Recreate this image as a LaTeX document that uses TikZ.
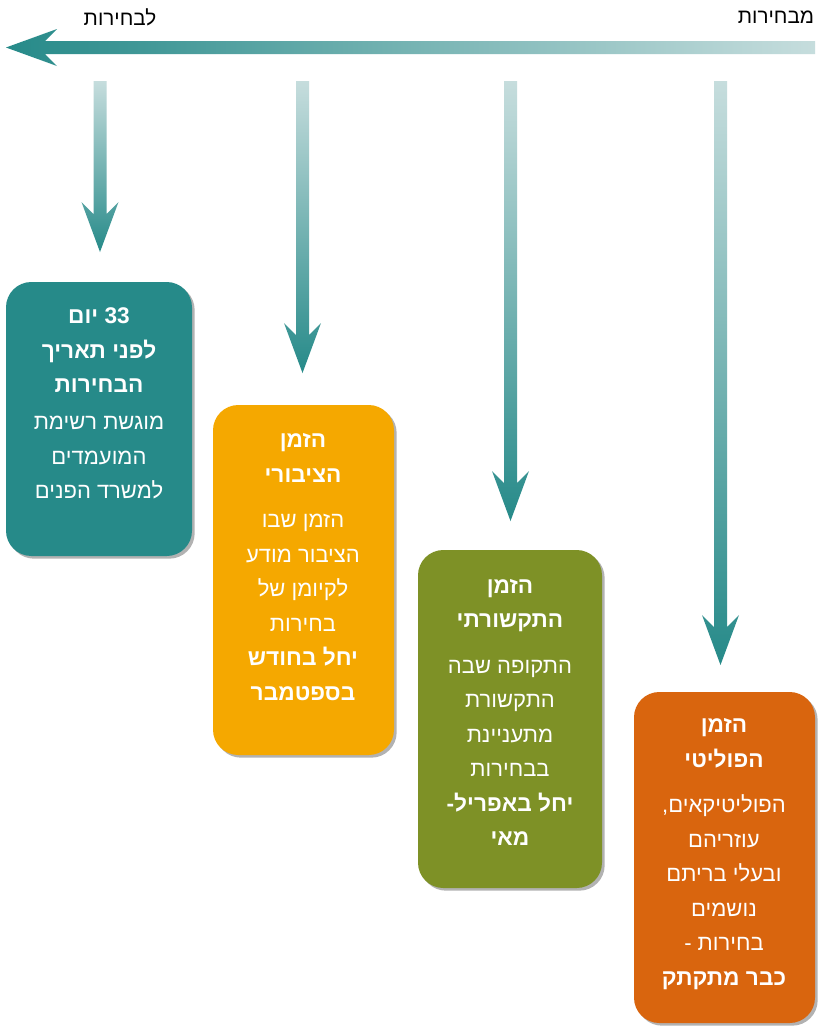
\documentclass[tikz,border=0pt]{standalone}
\usepackage{fontspec}
\setmainfont{Liberation Sans}
\newfontfamily\heb[Script=Hebrew]{Liberation Sans}
\TeXXeTstate=1
\usetikzlibrary{shadows}
\definecolor{tealD}{HTML}{268A89}
\definecolor{tealL}{HTML}{C6DDDD}
\definecolor{gold}{HTML}{F5A800}
\definecolor{olive}{HTML}{7E9126}
\definecolor{rust}{HTML}{D9650E}
\newcommand\rl[1]{\beginR #1\endR}
\newcommand\bodyfont{\heb\fontsize{16.5}{25.9}\selectfont}
\newcommand\titlefont{\heb\bfseries\fontsize{17}{25}\selectfont}
\tikzset{
  box/.style={rounded corners=19pt, draw=none, inner sep=0pt,
    drop shadow={shadow xshift=2pt, shadow yshift=-2pt, opacity=0.3, fill=black}},
  boxtext/.style={text=white, align=center, inner sep=0pt, font=\bodyfont},
  toplabel/.style={text=black, inner sep=0pt, font=\heb\fontsize{15.5}{18}\selectfont},
}
\newcommand\varrow[3]{%
  \shade[top color=tealL, bottom color=tealD]
    (#1-6.5,#2) -- (#1+6.5,#2) -- (#1+6.5,#3-38) -- (#1+18.5,#3-50) -- (#1,#3)
    -- (#1-18.5,#3-50) -- (#1-6.5,#3-38) -- cycle;}
\begin{document}
\begin{tikzpicture}[x=0.75pt, y=-0.75pt]
\useasboundingbox (0,0) rectangle (822,1026);
\fill[white] (0,0) rectangle (822,1026);

% top arrow
\shade[left color=tealD, right color=tealL]
  (6,47.5) -- (57,29) -- (45,41) -- (815,41) -- (815,54) -- (45,54) -- (57,66) -- cycle;
\node[toplabel] (to) at (120,17) {\rl{לבחירות}};
\node[toplabel] (from) at (776,17) {\rl{מבחירות}};

% vertical arrows
\varrow{100}{81}{252}
\varrow{302.5}{81}{373}
\varrow{510.5}{81}{521}
\varrow{720.5}{81}{665}

% boxes
\node[box, fill=tealD, minimum width={186*0.75pt}, minimum height={274*0.75pt}] (b1) at (99,419) {};
\node[box, fill=gold, minimum width={181*0.75pt}, minimum height={350*0.75pt}] (b2) at (303.5,580) {};
\node[box, fill=olive, minimum width={184*0.75pt}, minimum height={338*0.75pt}] (b3) at (510,719) {};
\node[box, fill=rust, minimum width={181*0.75pt}, minimum height={331*0.75pt}] (b4) at (724.5,857.5) {};

% texts
\node[boxtext] (t1) at (99,403.5) {%
  {\titlefont\rl{33 יום}}\\
  {\titlefont\rl{לפני תאריך}}\\
  {\titlefont\rl{הבחירות}}\\[2pt]
  \rl{מוגשת רשימת}\\
  \rl{המועמדים}\\
  \rl{למשרד הפנים}};
\node[boxtext] (t2) at (303,567) {%
  {\titlefont\rl{הזמן}}\\
  {\titlefont\rl{הציבורי}}\\[8pt]
  \rl{הזמן שבו}\\
  \rl{הציבור מודע}\\
  \rl{לקיומן של}\\
  \rl{בחירות}\\
  {\titlefont\rl{יחל בחודש}}\\
  {\titlefont\rl{בספטמבר}}};
\node[boxtext] (t3) at (510,712.5) {%
  {\titlefont\rl{הזמן}}\\
  {\titlefont\rl{התקשורתי}}\\[8pt]
  \rl{התקופה שבה}\\
  \rl{התקשורת}\\
  \rl{מתעניינת}\\
  \rl{בבחירות}\\
  {\titlefont\rl{יחל באפריל-}}\\
  {\titlefont\rl{מאי}}};
\node[boxtext] (t4) at (724,854) {%
  {\titlefont\rl{הזמן}}\\
  {\titlefont\rl{הפוליטי}}\\[8pt]
  \rl{הפוליטיקאים,}\\
  \rl{עוזריהם}\\
  \rl{ובעלי בריתם}\\
  \rl{נושמים}\\
  \rl{בחירות -}\\
  {\titlefont\rl{כבר מתקתק}}};
\end{tikzpicture}
\end{document}
